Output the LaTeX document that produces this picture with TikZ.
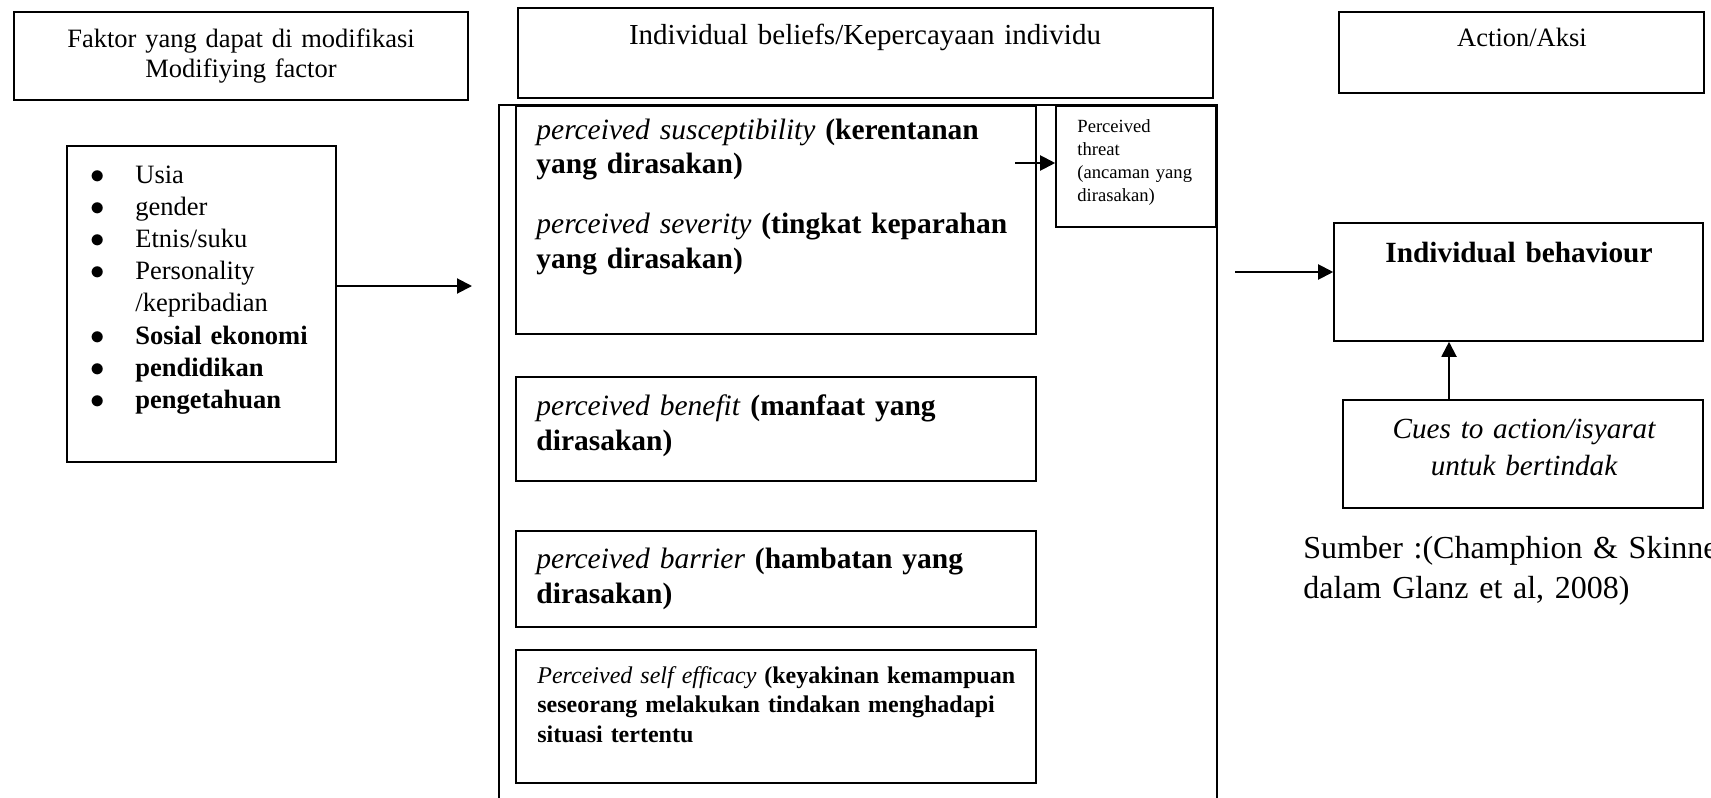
\documentclass[tikz,border=0pt]{standalone}
\usepackage{fontspec}
\setmainfont{Liberation Serif}
\usepackage{tikz}
\usetikzlibrary{arrows.meta, fit, positioning}
\newcommand{\bul}{\makebox[22.5pt][l]{$\bullet$}}

\begin{document}
\begin{tikzpicture}[x=0.5pt, y=-0.5pt,
    box/.style={draw, line width=0.8pt, inner sep=0pt, fit={#1}},
    arr/.style={line width=1pt, -{Triangle[length=7.5pt, width=7.5pt]}},
    txt/.style={inner sep=0pt, text width=#1, align=left, anchor=base west},
    ctr/.style={inner sep=0pt, text width=#1, align=center, anchor=base}]
    \useasboundingbox (0,0) rectangle (1711,797);

    % header boxes
    \node[box={(14,12) (468,100)}] (faktor) {};
    \node[ctr=220pt, font=\fontsize{13.25}{15}\selectfont] (faktorT) at (241,48)
        {Faktor yang dapat di modifikasi\\Modifiying factor};
    \node[box={(518,8) (1213,98)}] (beliefs) {};
    \node[ctr=340pt, font=\fontsize{14.5}{17}\selectfont] (beliefsT) at (865,45)
        {Individual beliefs/Kepercayaan individu};
    \node[box={(1339,12) (1704,93)}] (action) {};
    \node[ctr=170pt, font=\fontsize{13.25}{15}\selectfont] (actionT) at (1522,47) {Action/Aksi};

    % modifying factors
    \node[box={(67,146) (336,462)}] (mod) {};
    \node[txt=125pt, font=\fontsize{13.25}{16.1}\selectfont] (modT) at (90,183)
        {\bul Usia\\
         \bul gender\\
         \bul Etnis/suku\\
         \bul Personality\\
         \makebox[22.5pt]{}/kepribadian\\
         \bul\textbf{Sosial ekonomi}\\
         \bul\textbf{pendidikan}\\
         \bul\textbf{pengetahuan}};

    % individual beliefs
    \draw[line width=0.8pt] (499,800) |- (1217,105) -- (1217,800);
    \node[box={(516,106) (1036,334)}] (sus) {};
    \node[txt=245pt, font=\fontsize{14.75}{17}\selectfont] (susT) at (536,140)
        {\textit{perceived susceptibility} {\bfseries (kerentanan\\yang dirasakan)}\\[13pt]
         \textit{perceived severity} {\bfseries (tingkat keparahan\\yang dirasakan)}};
    \node[box={(1056,106) (1216,227)}] (threat) {};
    \node[txt=60pt, font=\fontsize{9.3}{11.5}\selectfont] (threatT) at (1077,133)
        {Perceived\\threat\\(ancaman yang\\dirasakan)};
    \node[box={(516,377) (1036,481)}] (benefit) {};
    \node[txt=245pt, font=\fontsize{14.75}{17.5}\selectfont] (benefitT) at (536,415)
        {\textit{perceived benefit} {\bfseries (manfaat yang\\dirasakan)}};
    \node[box={(516,531) (1036,627)}] (barrier) {};
    \node[txt=245pt, font=\fontsize{14.75}{17.5}\selectfont] (barrierT) at (536,568)
        {\textit{perceived barrier} {\bfseries (hambatan yang\\dirasakan)}};
    \node[box={(516,650) (1036,783)}] (efficacy) {};
    \node[txt=245pt, font=\fontsize{12}{14.75}\selectfont] (efficacyT) at (537,683)
        {\textit{Perceived self efficacy} {\bfseries (keyakinan kemampuan\\seseorang melakukan tindakan menghadapi\\situasi tertentu}};

    % action
    \node[box={(1334,223) (1703,341)}] (behav) {};
    \node[ctr=180pt, font=\fontsize{14.65}{17}\selectfont\bfseries] (behavT) at (1519,262)
        {Individual behaviour};
    \node[box={(1343,400) (1703,508)}] (cues) {};
    \node[ctr=175pt, font=\fontsize{14.6}{18.5}\selectfont\itshape] (cuesT) at (1524,438)
        {Cues to action/isyarat\\untuk bertindak};
    \node[txt=300pt, font=\fontsize{16}{20}\selectfont] (sumber) at (1303,558)
        {Sumber :(Champhion \& Skinner\\dalam Glanz et al, 2008)};

    % arrows
    \coordinate (modIn) at (472,286);
    \coordinate (thrIn) at (1015,163);
    \coordinate (behIn) at (1235,272);
    \coordinate (cueX) at (1449,0);
    \draw[arr] (mod.east |- modIn) -- (modIn);
    \draw[arr] (thrIn) -- (thrIn -| threat.west);
    \draw[arr] (behIn) -- (behIn -| behav.west);
    \draw[arr] (cueX |- cues.north) -- (cueX |- behav.south);
\end{tikzpicture}
\end{document}
